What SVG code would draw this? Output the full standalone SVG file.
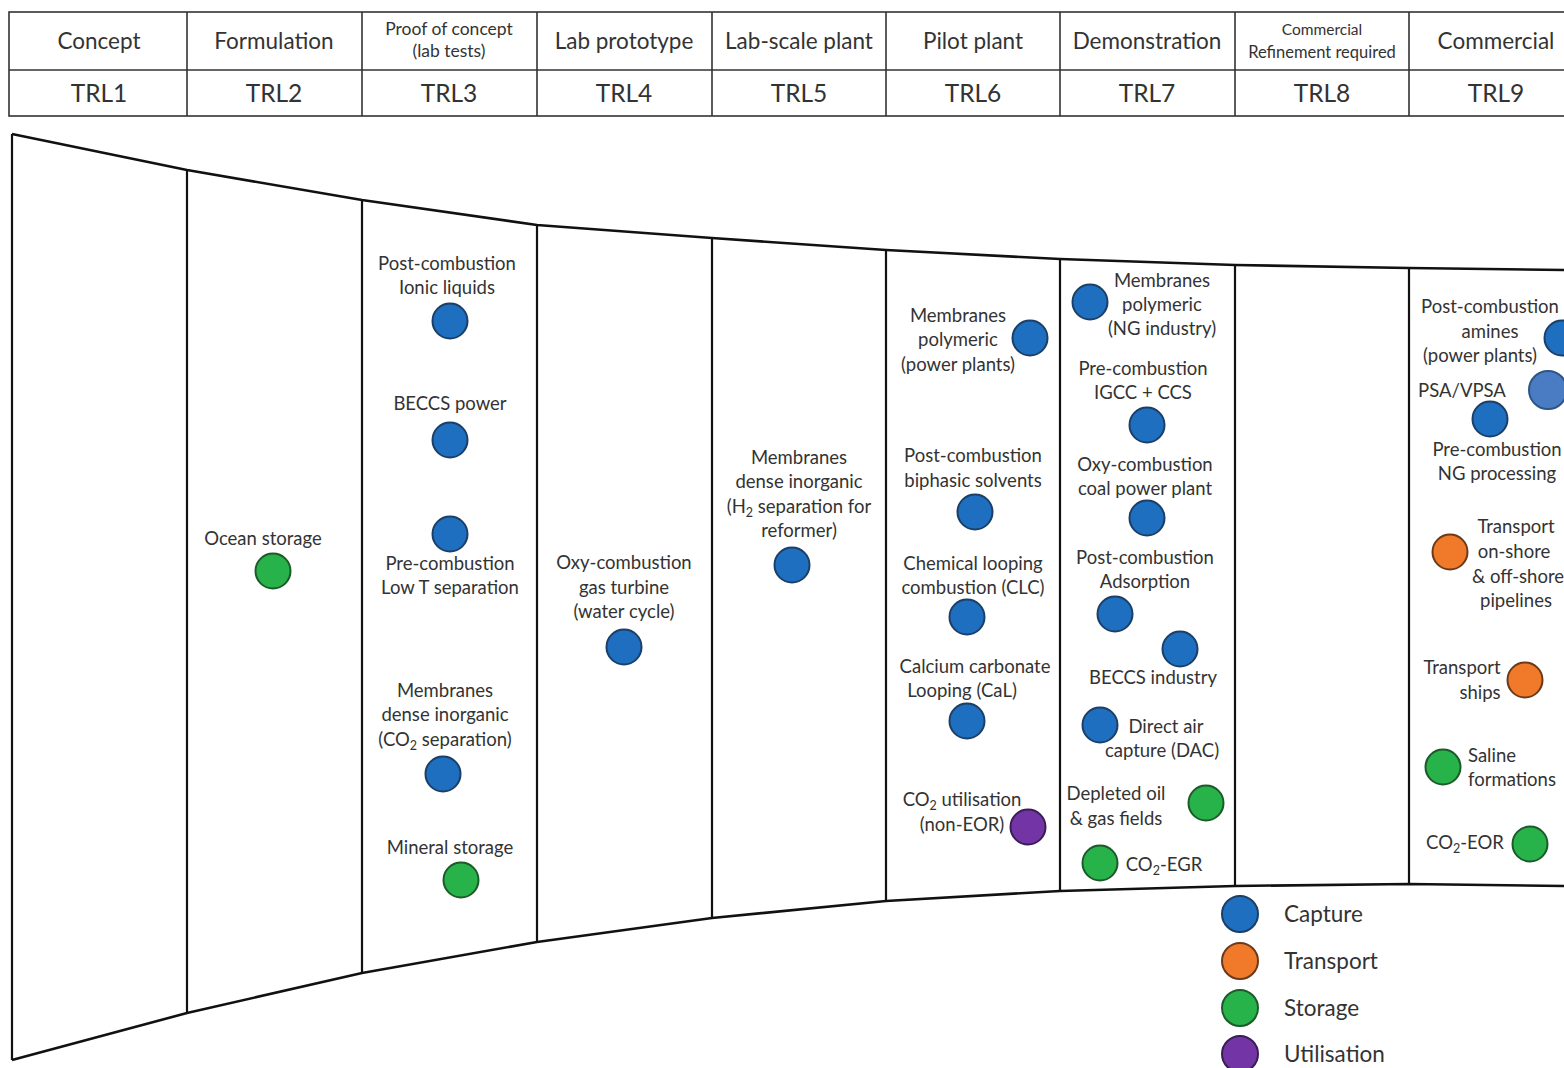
<svg xmlns="http://www.w3.org/2000/svg" width="1564" height="1068" viewBox="0 0 1564 1068">
<style>
.hdr{font-family:Lato,"Open Sans","Liberation Sans",sans-serif;fill:#333;text-anchor:middle}
.h1{font-size:22.5px}
.h2{font-size:24.5px}
.hs{font-size:17.5px}
.hx{font-size:15.5px}
.hr{font-size:16.5px}
.lbl{font-family:Lato,"Open Sans","Liberation Sans",sans-serif;font-size:18.5px;fill:#333;text-anchor:middle}
.sub{font-size:12.5px}
.leg{font-family:Lato,"Open Sans","Liberation Sans",sans-serif;font-size:22.5px;fill:#333}
.grid{stroke:#333;stroke-width:1.6;fill:none}
.fun{stroke:#111;stroke-width:2.6;fill:none;stroke-linejoin:round}
.div{stroke:#111;stroke-width:2.2}
.cap{fill:#1f6fc0;stroke:#1b3f66;stroke-width:2}
.cap2{fill:#4a7cc4;stroke:#2f5587;stroke-width:2}
.tra{fill:#f07a2a;stroke:#6b3a1a;stroke-width:2}
.sto{fill:#27b24a;stroke:#1d5a2a;stroke-width:2}
.uti{fill:#7335a5;stroke:#3a1d55;stroke-width:2}
</style>
<rect width="1564" height="1068" fill="#fff"/>
<g id="header">
<rect x="9" y="12" width="1580" height="104" class="grid"/>
<line x1="9" y1="70" x2="1589" y2="70" class="grid"/>
<g class="grid">
<line x1="187" y1="12" x2="187" y2="116"/><line x1="362" y1="12" x2="362" y2="116"/>
<line x1="537" y1="12" x2="537" y2="116"/><line x1="712" y1="12" x2="712" y2="116"/>
<line x1="886" y1="12" x2="886" y2="116"/><line x1="1060" y1="12" x2="1060" y2="116"/>
<line x1="1235" y1="12" x2="1235" y2="116"/><line x1="1409" y1="12" x2="1409" y2="116"/>
</g>
<text class="hdr h1" x="99" y="49">Concept</text>
<text class="hdr h1" x="274" y="49">Formulation</text>
<text class="hdr hs" x="449" y="35">Proof of concept</text>
<text class="hdr hs" x="449" y="57">(lab tests)</text>
<text class="hdr h1" x="624" y="49">Lab prototype</text>
<text class="hdr h1" x="799" y="49">Lab-scale plant</text>
<text class="hdr h1" x="973" y="49">Pilot plant</text>
<text class="hdr h1" x="1147" y="49">Demonstration</text>
<text class="hdr hx" x="1322" y="35">Commercial</text>
<text class="hdr hr" x="1322" y="58">Refinement required</text>
<text class="hdr h1" x="1496" y="49">Commercial</text>
<text class="hdr h2" x="99" y="102">TRL1</text>
<text class="hdr h2" x="274" y="102">TRL2</text>
<text class="hdr h2" x="449" y="102">TRL3</text>
<text class="hdr h2" x="624" y="102">TRL4</text>
<text class="hdr h2" x="799" y="102">TRL5</text>
<text class="hdr h2" x="973" y="102">TRL6</text>
<text class="hdr h2" x="1147" y="102">TRL7</text>
<text class="hdr h2" x="1322" y="102">TRL8</text>
<text class="hdr h2" x="1496" y="102">TRL9</text>
</g>
<g id="funnel">
<polyline class="fun" points="12,134 187,170 362,200 537,225 712,238 886,250 1060,259 1235,265 1409,268 1570,270"/>
<polyline class="fun" points="12,1060 187,1013 362,973 537,942 712,918 886,901 1060,891 1235,886 1409,884 1570,886"/>
<line class="div" x1="12" y1="134" x2="12" y2="1060"/>
<line class="div" x1="187" y1="170" x2="187" y2="1013"/>
<line class="div" x1="362" y1="200" x2="362" y2="973"/>
<line class="div" x1="537" y1="225" x2="537" y2="942"/>
<line class="div" x1="712" y1="238" x2="712" y2="918"/>
<line class="div" x1="886" y1="250" x2="886" y2="901"/>
<line class="div" x1="1060" y1="259" x2="1060" y2="891"/>
<line class="div" x1="1235" y1="265" x2="1235" y2="886"/>
<line class="div" x1="1409" y1="268" x2="1409" y2="884"/>
</g>
<g id="trl2">
<g id="ocean-storage"><text class="lbl" x="263" y="545">Ocean storage</text><circle class="sto" cx="273" cy="571" r="17.5"/></g>
</g>
<g id="trl3">
<g id="pc-ionic"><text class="lbl" x="447" y="270">Post-combustion</text><text class="lbl" x="447" y="294">Ionic liquids</text><circle class="cap" cx="450" cy="321" r="17.5"/></g>
<g id="beccs-power"><text class="lbl" x="450" y="410">BECCS power</text><circle class="cap" cx="450" cy="440" r="17.5"/></g>
<g id="pre-lowT"><circle class="cap" cx="450" cy="534" r="17.5"/><text class="lbl" x="450" y="570">Pre-combustion</text><text class="lbl" x="450" y="594">Low T separation</text></g>
<g id="mem-co2"><text class="lbl" x="445" y="697">Membranes</text><text class="lbl" x="445" y="721">dense inorganic</text><text class="lbl" x="445" y="746">(CO<tspan class="sub" dy="4">2</tspan><tspan dy="-4"> separation)</tspan></text><circle class="cap" cx="443" cy="774" r="17.5"/></g>
<g id="mineral"><text class="lbl" x="450" y="854">Mineral storage</text><circle class="sto" cx="461" cy="880" r="17.5"/></g>
</g>
<g id="trl4">
<g id="oxy-gt"><text class="lbl" x="624" y="569">Oxy-combustion</text><text class="lbl" x="624" y="594">gas turbine</text><text class="lbl" x="624" y="618">(water cycle)</text><circle class="cap" cx="624" cy="647" r="17.5"/></g>
</g>
<g id="trl5">
<g id="mem-h2"><text class="lbl" x="799" y="464">Membranes</text><text class="lbl" x="799" y="488">dense inorganic</text><text class="lbl" x="799" y="513">(H<tspan class="sub" dy="4">2</tspan><tspan dy="-4"> separation for</tspan></text><text class="lbl" x="799" y="537">reformer)</text><circle class="cap" cx="792" cy="565" r="17.5"/></g>
</g>
<g id="trl6">
<g id="mem-poly-pp"><text class="lbl" x="958" y="322">Membranes</text><text class="lbl" x="958" y="346">polymeric</text><text class="lbl" x="958" y="371">(power plants)</text><circle class="cap" cx="1030" cy="338" r="17.5"/></g>
<g id="pc-biphasic"><text class="lbl" x="973" y="462">Post-combustion</text><text class="lbl" x="973" y="487">biphasic solvents</text><circle class="cap" cx="975" cy="512" r="17.5"/></g>
<g id="clc"><text class="lbl" x="973" y="570">Chemical looping</text><text class="lbl" x="973" y="594">combustion (CLC)</text><circle class="cap" cx="967" cy="617" r="17.5"/></g>
<g id="cal"><text class="lbl" x="975" y="673">Calcium carbonate</text><text class="lbl" x="962" y="697">Looping (CaL)</text><circle class="cap" cx="967" cy="721" r="17.5"/></g>
<g id="co2-util"><text class="lbl" x="962" y="806">CO<tspan class="sub" dy="4">2</tspan><tspan dy="-4"> utilisation</tspan></text><text class="lbl" x="962" y="831">(non-EOR)</text><circle class="uti" cx="1028" cy="827" r="17.5"/></g>
</g>
<g id="trl7">
<g id="mem-poly-ng"><circle class="cap" cx="1090" cy="302" r="17.5"/><text class="lbl" x="1162" y="287">Membranes</text><text class="lbl" x="1162" y="311">polymeric</text><text class="lbl" x="1162" y="335">(NG industry)</text></g>
<g id="igcc"><text class="lbl" x="1143" y="375">Pre-combustion</text><text class="lbl" x="1143" y="399">IGCC + CCS</text><circle class="cap" cx="1147" cy="425" r="17.5"/></g>
<g id="oxy-coal"><text class="lbl" x="1145" y="471">Oxy-combustion</text><text class="lbl" x="1145" y="495">coal power plant</text><circle class="cap" cx="1147" cy="518" r="17.5"/></g>
<g id="pc-ads"><text class="lbl" x="1145" y="564">Post-combustion</text><text class="lbl" x="1145" y="588">Adsorption</text><circle class="cap" cx="1115" cy="614" r="17.5"/></g>
<g id="beccs-ind"><circle class="cap" cx="1180" cy="649" r="17.5"/><text class="lbl" x="1153" y="684">BECCS industry</text></g>
<g id="dac"><circle class="cap" cx="1100" cy="725" r="17.5"/><text class="lbl" x="1166" y="733">Direct air</text><text class="lbl" x="1162" y="757">capture (DAC)</text></g>
<g id="depleted"><text class="lbl" x="1116" y="800">Depleted oil</text><text class="lbl" x="1116" y="825">&amp; gas fields</text><circle class="sto" cx="1206" cy="803" r="17.5"/></g>
<g id="egr"><circle class="sto" cx="1100" cy="863" r="17.5"/><text class="lbl" x="1164" y="871">CO<tspan class="sub" dy="4">2</tspan><tspan dy="-4">-EGR</tspan></text></g>
</g>
<g id="trl9">
<g id="pc-amines"><text class="lbl" x="1490" y="313">Post-combustion</text><text class="lbl" x="1490" y="338">amines</text><text class="lbl" x="1480" y="362">(power plants)</text><circle class="cap" cx="1562" cy="338" r="17.5"/></g>
<g id="psa"><text class="lbl" x="1462" y="397">PSA/VPSA</text><circle class="cap2" cx="1548" cy="390" r="19"/></g>
<g id="pre-ng"><circle class="cap" cx="1490" cy="419" r="17.5"/><text class="lbl" x="1497" y="456">Pre-combustion</text><text class="lbl" x="1497" y="480">NG processing</text></g>
<g id="pipelines"><circle class="tra" cx="1450" cy="552" r="17.5"/><text class="lbl" x="1516" y="533">Transport</text><text class="lbl" x="1514" y="558">on-shore</text><text class="lbl" x="1518" y="583">&amp; off-shore</text><text class="lbl" x="1516" y="607">pipelines</text></g>
<g id="ships"><text class="lbl" x="1462" y="674">Transport</text><text class="lbl" x="1480" y="699">ships</text><circle class="tra" cx="1525" cy="680" r="17.5"/></g>
<g id="saline"><circle class="sto" cx="1443" cy="767" r="17.5"/><text class="lbl" x="1492" y="762">Saline</text><text class="lbl" x="1512" y="786">formations</text></g>
<g id="eor"><text class="lbl" x="1465" y="849">CO<tspan class="sub" dy="4">2</tspan><tspan dy="-4">-EOR</tspan></text><circle class="sto" cx="1530" cy="844" r="17.5"/></g>
</g>
<g id="legend">
<circle class="cap" cx="1240" cy="914" r="18"/><text class="leg" x="1284" y="922">Capture</text>
<circle class="tra" cx="1240" cy="961" r="18"/><text class="leg" x="1284" y="969">Transport</text>
<circle class="sto" cx="1240" cy="1008" r="18"/><text class="leg" x="1284" y="1016">Storage</text>
<circle class="uti" cx="1240" cy="1054" r="18"/><text class="leg" x="1284" y="1062">Utilisation</text>
</g>
<g id="connectors"></g>
</svg>
